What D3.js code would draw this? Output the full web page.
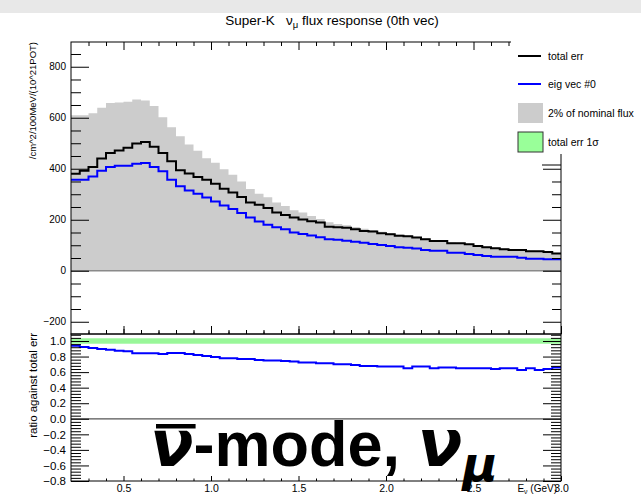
<!DOCTYPE html>
<html>
<head>
<meta charset="utf-8">
<script src="https://cdn.jsdelivr.net/npm/d3@7"></script>
<style>
  body { margin: 0; background: #fff; }
  svg { display: block; font-family: "Liberation Sans", Arial, sans-serif; }
</style>
</head>
<body>
<script>
// bins: 0.05 GeV wide, 0.2 -> 3.0 GeV
var binLow = d3.range(0, 56).map(function(i) { return +(0.2 + i * 0.05).toFixed(2); });

var nominal = [610, 610, 618, 639, 658, 660, 663, 672, 668, 646, 602, 563, 527, 495, 471, 441,
  424, 398, 376, 350, 321, 302, 288, 268, 254, 237, 228, 215, 203, 190, 183, 178, 172, 165,
  160, 153, 148, 142, 138, 133, 127, 121, 119, 112, 110, 106, 100, 95, 91, 87, 84, 83, 79, 78, 76, 71];
var totalErr = [380, 392, 407, 440, 462, 472, 482, 499, 505, 486, 462, 429, 394, 381, 368, 357,
  341, 322, 307, 289, 268, 259, 246, 228, 219, 209, 201, 194, 189, 173, 171, 169, 163, 156,
  154, 147, 143, 137, 135, 130, 124, 117, 117, 108, 108, 104, 97, 92, 88, 84, 81, 81, 76, 76, 74, 68];
var eigVec0 = [357, 357, 370, 392, 407, 412, 412, 420, 423, 407, 390, 357, 331, 315, 302, 287,
  272, 256, 242, 226, 209, 193, 180, 171, 163, 150, 144, 138, 131, 124, 122, 118, 114, 110,
  105, 101, 97, 92, 90, 87, 81, 78, 78, 71, 71, 66, 62, 58, 55, 55, 55, 51, 47, 47, 45, 45];
var ratio = [0.940, 0.923, 0.910, 0.897, 0.889, 0.876, 0.868, 0.842, 0.842, 0.842, 0.833, 0.846,
  0.846, 0.833, 0.821, 0.808, 0.795, 0.778, 0.778, 0.769, 0.769, 0.756, 0.748, 0.748, 0.744,
  0.735, 0.722, 0.722, 0.714, 0.714, 0.701, 0.701, 0.692, 0.679, 0.679, 0.671, 0.671, 0.671,
  0.650, 0.671, 0.671, 0.650, 0.658, 0.658, 0.650, 0.650, 0.650, 0.650, 0.641, 0.650, 0.650,
  0.628, 0.650, 0.628, 0.641, 0.658];
var band1Sigma = [0.965, 1.035];

var topTicks = [-200, 0, 200, 400, 600, 800];
var ratioTicks = [-0.8, -0.6, -0.4, -0.2, 0, 0.2, 0.4, 0.6, 0.8, 1.0];
var xTicks = [0.5, 1.0, 1.5, 2.0, 2.5, 3.0];

var width = 641, height = 495;
var svg = d3.select("body").append("svg")
    .attr("width", width)
    .attr("height", height);

svg.append("rect").attr("x", 0).attr("y", 0).attr("width", width).attr("height", 13)
    .attr("fill", "#e8e8e8");

var x = d3.scaleLinear().domain([0.2, 3.0]).range([71, 561]);
var yT = d3.scaleLinear().domain([-248, 897]).range([334, 42]);
var yR = d3.scaleLinear().domain([-0.8, 1.09]).range([481, 334]);

// points for step histograms (last bin closed at 3.0)
function steps(vals) {
  var pts = vals.map(function(v, i) { return [binLow[i], v]; });
  pts.push([3.0, vals[vals.length - 1]]);
  return pts;
}

var gTop = svg.append("g");
gTop.append("path")
    .datum(steps(nominal))
    .attr("fill", "#cccccc")
    .attr("d", d3.area().curve(d3.curveStepAfter)
      .x(function(d) { return x(d[0]); })
      .y0(yT(0))
      .y1(function(d) { return yT(d[1]); }));
gTop.append("line")
    .attr("x1", x(0.2)).attr("x2", x(3.0)).attr("y1", yT(0)).attr("y2", yT(0))
    .attr("stroke", "#8a8a8a").attr("stroke-width", 1.5);

var stepLine = d3.line().curve(d3.curveStepAfter)
    .x(function(d) { return x(d[0]); })
    .y(function(d) { return yT(d[1]); });
gTop.append("path").datum(steps(totalErr))
    .attr("fill", "none").attr("stroke", "#000").attr("stroke-width", 2).attr("d", stepLine);
gTop.append("path").datum(steps(eigVec0))
    .attr("fill", "none").attr("stroke", "#0000ff").attr("stroke-width", 2).attr("d", stepLine);

// ratio panel
var gBot = svg.append("g");
gBot.append("rect")
    .attr("x", x(0.2)).attr("width", x(3.0) - x(0.2))
    .attr("y", yR(band1Sigma[1])).attr("height", yR(band1Sigma[0]) - yR(band1Sigma[1]))
    .attr("fill", "#99f799");
gBot.append("line")
    .attr("x1", x(0.2)).attr("x2", x(3.0)).attr("y1", yR(0)).attr("y2", yR(0))
    .attr("stroke", "#555").attr("stroke-width", 1.2);
gBot.append("path").datum(steps(ratio))
    .attr("fill", "none").attr("stroke", "#0000ff").attr("stroke-width", 2)
    .attr("d", d3.line().curve(d3.curveStepAfter)
      .x(function(d) { return x(d[0]); })
      .y(function(d) { return yR(d[1]); }));

// axes
function noDomain(g) { g.select(".domain").remove(); }
var xMinor = d3.range(3, 31).map(function(i) { return i / 10; })
    .filter(function(v) { return Math.abs(v * 2 - Math.round(v * 2)) > 1e-6; });
var topMinor = d3.range(-250, 900, 50).filter(function(v) { return v % 200 !== 0 && v > -248; });
var ratioMinor = d3.range(0, 48).map(function(i) { return +(-0.8 + i * 0.04).toFixed(2); })
    .filter(function(v) { return Math.abs(v * 5 - Math.round(v * 5)) > 1e-6; });

// top panel y
svg.append("g").attr("transform", "translate(71,0)")
    .call(d3.axisLeft(yT).tickValues(topTicks).tickSizeInner(-18).tickSizeOuter(0).tickPadding(5))
    .call(noDomain)
    .call(function(g) { g.selectAll("text").attr("font-size", 10).attr("font-family", "Liberation Sans"); });
svg.append("g").attr("transform", "translate(71,0)")
    .call(d3.axisLeft(yT).tickValues(topMinor).tickSizeInner(-10).tickSizeOuter(0).tickFormat(""))
    .call(noDomain);
svg.append("g").attr("transform", "translate(561,0)")
    .call(d3.axisRight(yT).tickValues(topTicks).tickSizeInner(-18).tickSizeOuter(0).tickFormat(""))
    .call(noDomain);
svg.append("g").attr("transform", "translate(561,0)")
    .call(d3.axisRight(yT).tickValues(topMinor).tickSizeInner(-9).tickSizeOuter(0).tickFormat(""))
    .call(noDomain);

// ratio panel y
svg.append("g").attr("transform", "translate(71,0)")
    .call(d3.axisLeft(yR).tickValues(ratioTicks).tickSizeInner(-18).tickSizeOuter(0).tickPadding(5)
      .tickFormat(d3.format(".1f")))
    .call(noDomain)
    .call(function(g) { g.selectAll("text").attr("font-size", 11.5).attr("font-family", "Liberation Sans"); });
svg.append("g").attr("transform", "translate(71,0)")
    .call(d3.axisLeft(yR).tickValues(ratioMinor).tickSizeInner(-10).tickSizeOuter(0).tickFormat(""))
    .call(noDomain);
svg.append("g").attr("transform", "translate(561,0)")
    .call(d3.axisRight(yR).tickValues(ratioTicks).tickSizeInner(-18).tickSizeOuter(0).tickFormat(""))
    .call(noDomain);
svg.append("g").attr("transform", "translate(561,0)")
    .call(d3.axisRight(yR).tickValues(ratioMinor).tickSizeInner(-10).tickSizeOuter(0).tickFormat(""))
    .call(noDomain);

// x axes: [y position, orientation, major tick length]
[[42, "top", -8], [334, "bottom", -8], [334, "top", 5]].forEach(function(a) {
  var mk = function() { return a[1] === "top" ? d3.axisTop(x) : d3.axisBottom(x); };
  svg.append("g").attr("transform", "translate(0," + a[0] + ")")
      .call(mk().tickValues(xTicks).tickSizeInner(a[2]).tickSizeOuter(0).tickFormat(""))
      .call(noDomain);
  svg.append("g").attr("transform", "translate(0," + a[0] + ")")
      .call(mk().tickValues(xMinor).tickSizeInner(a[2] / 2).tickSizeOuter(0).tickFormat(""))
      .call(noDomain);
});
svg.append("g").attr("transform", "translate(0,481)")
    .call(d3.axisBottom(x).tickValues(xTicks).tickSizeInner(-5).tickSizeOuter(0).tickPadding(4)
      .tickFormat(d3.format(".1f")))
    .call(noDomain)
    .call(function(g) { g.selectAll("text").attr("font-size", 10.5).attr("font-family", "Liberation Sans"); });
svg.append("g").attr("transform", "translate(0,481)")
    .call(d3.axisBottom(x).tickValues(xMinor).tickSizeInner(-2.5).tickSizeOuter(0).tickFormat(""))
    .call(noDomain);

// frames
svg.append("rect").attr("x", 71).attr("y", 42).attr("width", 490).attr("height", 292)
    .attr("fill", "none").attr("stroke", "#000").attr("stroke-width", 1);
svg.append("rect").attr("x", 71).attr("y", 334).attr("width", 490).attr("height", 147)
    .attr("fill", "none").attr("stroke", "#000").attr("stroke-width", 1);

// axis titles
svg.append("text")
    .attr("transform", "translate(36,42) rotate(-90)")
    .attr("text-anchor", "end").attr("font-size", 9.5)
    .text("/cm^2/100MeV/(10^21POT)");
svg.append("text")
    .attr("transform", "translate(37,333) rotate(-90)")
    .attr("text-anchor", "end").attr("font-size", 11.5)
    .text("ratio against total err");
var xt = svg.append("text").attr("x", 557).attr("y", 492).attr("text-anchor", "end").attr("font-size", 10);
xt.append("tspan").text("E");
xt.append("tspan").attr("font-size", 7).attr("dy", 2).text("ν");
xt.append("tspan").attr("dy", -2).text(" (GeV)");

// title
var tt = svg.append("text").attr("x", 332).attr("y", 25).attr("text-anchor", "middle").attr("font-size", 13.5);
tt.append("tspan").text("Super-K\u00a0\u00a0\u00a0ν");
tt.append("tspan").attr("font-size", 9.5).attr("dy", 3).text("μ");
tt.append("tspan").attr("dy", -3).text(" flux response (0th vec)");

// legend
var leg = svg.append("g");
leg.append("rect").attr("x", 511).attr("y", 36).attr("width", 130).attr("height", 129).attr("fill", "#fff");
leg.append("line").attr("x1", 542).attr("x2", 561).attr("y1", 165).attr("y2", 165).attr("stroke", "#000");
leg.append("line").attr("x1", 561).attr("x2", 561).attr("y1", 154).attr("y2", 165).attr("stroke", "#000");
var legItems = [
  {label: "total err", kind: "line", color: "#000", y: 56},
  {label: "eig vec #0", kind: "line", color: "#0000ff", y: 84},
  {label: "2% of nominal flux", kind: "box", color: "#cccccc", y: 113},
  {label: "total err 1σ", kind: "box", color: "#99ff99", y: 142, border: true}
];
legItems.forEach(function(d) {
  if (d.kind === "line") {
    leg.append("line").attr("x1", 518).attr("x2", 541).attr("y1", d.y).attr("y2", d.y)
        .attr("stroke", d.color).attr("stroke-width", 2);
  } else {
    leg.append("rect").attr("x", 518).attr("y", d.y - 10).attr("width", 25).attr("height", 20)
        .attr("fill", d.color).attr("stroke", d.border ? "#333" : "none");
  }
  leg.append("text").attr("x", 548).attr("y", d.y + 3.5).attr("font-size", 10.5).text(d.label);
});

// overlay label
var big = svg.append("text").attr("x", 150).attr("y", 466).attr("font-weight", "bold");
big.append("tspan").attr("font-family", "DejaVu Sans").attr("font-style", "italic")
    .attr("font-size", 64).text("ν");
big.append("tspan").attr("font-family", "Liberation Sans").attr("font-size", 63).text("-mode, ");
big.append("tspan").attr("font-family", "DejaVu Sans").attr("font-style", "italic")
    .attr("font-size", 66).text("ν");
big.append("tspan").attr("font-family", "DejaVu Sans").attr("font-style", "italic")
    .attr("font-size", 48).attr("dy", 15).text("μ");
var e0 = big.node().getExtentOfChar(0);
svg.append("rect").attr("x", e0.x + 6).attr("y", 424).attr("width", e0.width - 4).attr("height", 4.5)
    .attr("fill", "#000");
</script>
</body>
</html>
